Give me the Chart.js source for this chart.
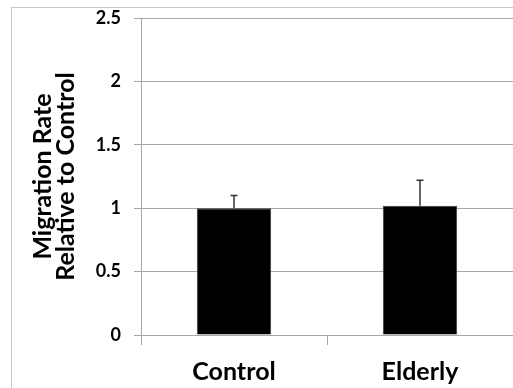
<!DOCTYPE html>
<html>
<head>
<meta charset="utf-8">
<script src="https://cdn.jsdelivr.net/npm/chart.js@4"></script>
<style>
    html, body { margin: 0; padding: 0; background: #fff; overflow: hidden; }
    #wrap { position: relative; width: 513px; height: 388px; }
    #frame {
        position: absolute; left: 11px; top: 7px; width: 600px; height: 500px;
        border-left: 1px solid #c8c8c8; border-top: 1px solid #c8c8c8;
    }
    #chart { position: absolute; left: 0; top: 0; }
</style>
</head>
<body>
<div id="wrap">
    <div id="frame"></div>
    <canvas id="chart" width="513" height="388"></canvas>
</div>
<script>
// Migration rate per group, relative to control, with SEM (upper bar only)
const groups = ['Control', 'Elderly'];
const migrationRate = [1.0, 1.02];
const migrationErr = [0.1, 0.2];
const yTicks = [0, 0.5, 1, 1.5, 2, 2.5];

const gridGray = '#a6a6a6';
const fontFamily = 'Lato, "Open Sans", sans-serif';

// Draws the upward error whiskers with a short cap
const errorBars = {
    id: 'errorBars',
    afterDatasetsDraw(chart) {
        const ctx = chart.ctx;
        const meta = chart.getDatasetMeta(0);
        const yScale = chart.scales.y;
        ctx.save();
        ctx.strokeStyle = '#333';
        ctx.lineWidth = 1.5;
        meta.data.forEach((bar, i) => {
            const top = yScale.getPixelForValue(migrationRate[i] + migrationErr[i]);
            ctx.beginPath();
            ctx.moveTo(bar.x, bar.y);
            ctx.lineTo(bar.x, top);
            ctx.moveTo(bar.x - 3.5, top);
            ctx.lineTo(bar.x + 3.5, top);
            ctx.stroke();
        });
        ctx.restore();
    }
};

new Chart(document.getElementById('chart'), {
    type: 'bar',
    data: {
        labels: groups,
        datasets: [{
            data: migrationRate,
            backgroundColor: '#000',
            borderColor: '#3a3a3a',
            borderWidth: 1,
            categoryPercentage: 0.8,
            barPercentage: 0.5
        }]
    },
    options: {
        responsive: false,
        animation: false,
        layout: { padding: { top: 18, right: 0, left: 0, bottom: 0 } },
        plugins: {
            legend: { display: false },
            tooltip: { enabled: false }
        },
        scales: {
            x: {
                grid: {
                    offset: true,
                    drawOnChartArea: false,
                    drawTicks: true,
                    tickLength: 10,
                    color: gridGray
                },
                border: { color: gridGray },
                ticks: {
                    color: '#000',
                    padding: 12,
                    font: { family: fontFamily, size: 25, weight: 'bold' }
                },
                afterFit(scale) { scale.height = 53; }
            },
            y: {
                min: 0,
                max: 2.5,
                afterBuildTicks(scale) {
                    scale.ticks = yTicks.map(v => ({ value: v }));
                },
                grid: { color: gridGray, tickLength: 7 },
                border: { color: gridGray },
                ticks: {
                    color: '#000',
                    padding: 13,
                    font: { family: fontFamily, size: 18, weight: 'bold' },
                    callback: value => String(value)
                },
                title: {
                    display: true,
                    text: ['Migration Rate', 'Relative to Control'],
                    color: '#000',
                    padding: { top: 31, bottom: 0 },
                    font: { family: fontFamily, size: 25, weight: 'bold', lineHeight: 0.94 }
                },
                afterFit(scale) {
                    scale.width = 141;
                    // top label may overhang; keep plot top fixed by layout padding
                    scale.paddingTop = 0;
                    scale.paddingBottom = 0;
                }
            }
        }
    },
    plugins: [errorBars]
});
</script>
</body>
</html>
